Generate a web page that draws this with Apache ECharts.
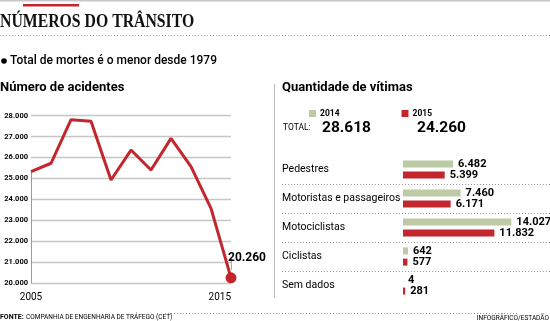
<!DOCTYPE html>
<html><head><meta charset="utf-8">
<script src="https://cdn.jsdelivr.net/npm/echarts@6/dist/echarts.min.js"></script>
<style>html,body{margin:0;padding:0;background:#fff}#c{width:550px;height:321px}</style>
</head><body><div id="c"></div>
<script>
// ---- data ----
const years = ['2005','2006','2007','2008','2009','2010','2011','2012','2013','2014','2015'];
const accidents = [25330, 25730, 27810, 27730, 24930, 26360, 25410, 26920, 25570, 23580, 20260];
const yTicks = [20000, 28000, 1000]; // min, max, interval
const categories = ['Pedestres', 'Motoristas e passageiros', 'Motociclistas', 'Ciclistas', 'Sem dados'];
const victims2014 = [6482, 7460, 14027, 642, 4];
const victims2015 = [5399, 6171, 11832, 577, 281];
const seriesNames = ['2014', '2015'];
const totals = ['28.618', '24.260'];

const RED = '#c1272d', GREEN = '#bccaa5';
const F = 'Roboto, "Noto Sans", sans-serif';
const fmt = v => v.toLocaleString('de-DE');

const chart = echarts.init(document.getElementById('c'), null, {renderer: 'canvas'});

const lastIdx = accidents.length - 1;
const lineData = accidents.map((v, i) => i === lastIdx ? {
  value: v, symbol: 'circle', symbolSize: 11,
  itemStyle: {color: RED},
  label: {show: true, position: 'top', offset: [16, -3], formatter: p => fmt(p.value),
    color: '#000', fontFamily: F, fontWeight: 'bold', fontSize: 12}
} : {value: v, symbol: 'none'});

const option = {
  animation: false,
  title: [
    {text: 'Número de acidentes', left: 0, top: 81, padding: 0,
     textStyle: {fontFamily: F, fontWeight: 'bold', fontSize: 13, color: '#000'}},
    {text: 'Quantidade de vítimas', left: 282, top: 81, padding: 0,
     textStyle: {fontFamily: F, fontWeight: 'bold', fontSize: 13, color: '#000'}}
  ],
  legend: {
    data: seriesNames, left: 309, top: 109, padding: 0,
    icon: 'rect', itemWidth: 7, itemHeight: 7, itemGap: 62,
    selectedMode: false,
    textStyle: {fontFamily: F, fontWeight: 'bold', fontSize: 8.5, color: '#000', padding: [0,0,0,-1]}
  },
  grid: [
    {left: 31, right: 319, top: 115.7, bottom: 37.7},
    {left: 403, right: 8, top: 155, bottom: 21}
  ],
  xAxis: [
    {gridIndex: 0, type: 'category', data: years, boundaryGap: false,
     axisLine: {show: false}, axisTick: {show: false}, splitLine: {show: false},
     axisLabel: {interval: (i) => i === 0 || i === years.length - 1, margin: 9,
       alignMaxLabel: 'right',
       fontFamily: F, fontSize: 10, color: '#000'}},
    {gridIndex: 1, type: 'value', min: 0, max: 18000, show: false}
  ],
  yAxis: [
    {gridIndex: 0, type: 'value', min: yTicks[0], max: yTicks[1], interval: yTicks[2],
     axisLine: {show: false}, axisTick: {show: false},
     splitLine: {lineStyle: {color: '#c6c6c6', width: 1.3}},
     axisLabel: {formatter: v => fmt(v), fontFamily: F, fontWeight: 'bold', fontSize: 7.5, color: '#000', margin: 3, align: 'right'}},
    {gridIndex: 1, type: 'category', data: categories, inverse: true,
     axisLine: {show: false}, axisTick: {show: false}, splitLine: {show: false},
     axisLabel: {align: 'left', margin: 121, fontFamily: F, fontSize: 10.5, color: '#000'}}
  ],
  series: [
    {type: 'line', xAxisIndex: 0, yAxisIndex: 0, data: lineData,
     lineStyle: {color: RED, width: 3}, itemStyle: {color: RED}, z: 5,
     markLine: {silent: true, symbol: 'none', label: {show: false},
       lineStyle: {color: '#9a9a9a', width: 1, type: 'solid'},
       data: [[{coord: [years[0], yTicks[0]]}, {coord: [years[0], accidents[0]]}]]}},
    {name: seriesNames[0], type: 'bar', xAxisIndex: 1, yAxisIndex: 1, data: victims2014,
     barWidth: 7, barGap: '60%', itemStyle: {color: GREEN},
     label: {show: true, position: 'right', distance: 5, formatter: p => fmt(p.value),
       fontFamily: F, fontWeight: 'bold', fontSize: 11, color: '#000'}},
    {name: seriesNames[1], type: 'bar', xAxisIndex: 1, yAxisIndex: 1, data: victims2015,
     barWidth: 7, barGap: '60%', itemStyle: {color: RED},
     label: {show: true, position: 'right', distance: 5, formatter: p => fmt(p.value),
       fontFamily: F, fontWeight: 'bold', fontSize: 11, color: '#000'}}
  ]
};
chart.setOption(option);

// ---- decorations computed from the axes ----
const dotted = {stroke: '#999', lineWidth: 1, lineDash: [1, 2]};
const g = [
  {id: 'topline', type: 'rect', left: 0, top: 0, shape: {width: 550, height: 1.5}, style: {fill: '#c8c8c8'}},
  {id: 'redbar', type: 'rect', left: 23, top: 4, shape: {width: 56, height: 2.5}, style: {fill: RED}, z: 10},
  {id: 'maintitle', type: 'text', left: 0, top: 13, scaleX: 0.83, originX: 0, style: {text: 'NÚMEROS DO TRÂNSITO', font: 'bold 19px "Liberation Serif", serif', fill: '#111'}},
  {id: 'dot1', type: 'line', shape: {x1: 0, y1: 35.5, x2: 550, y2: 35.5}, style: dotted},
  {id: 'bullet', type: 'circle', shape: {cx: 4, cy: 61, r: 2.8}, style: {fill: '#000'}},
  {id: 'sub', type: 'text', x: 10, y: 61, style: {text: 'Total de mortes é o menor desde 1979', font: '500 12px ' + F, fill: '#000', verticalAlign: 'middle'}},
  {id: 'vsep', type: 'line', shape: {x1: 274.5, y1: 84, x2: 274.5, y2: 298}, style: {stroke: '#bbb', lineWidth: 1}},
  {id: 'tot', type: 'text', x: 283, y: 128, style: {text: 'TOTAL:', font: '8.5px ' + F, fill: '#000', verticalAlign: 'middle'}},
  {id: 't0', type: 'text', x: 322, y: 128, style: {text: totals[0], font: 'bold 15.5px ' + F, fill: '#000', verticalAlign: 'middle'}},
  {id: 't1', type: 'text', x: 417, y: 128, style: {text: totals[1], font: 'bold 15.5px ' + F, fill: '#000', verticalAlign: 'middle'}},
  {id: 'dotb', type: 'line', shape: {x1: 165, y1: 313.5, x2: 518, y2: 313.5}, style: dotted},
  {id: 'fonte', type: 'text', x: 0, y: 317, style: {text: 'FONTE:', font: 'bold 7px ' + F, fill: '#000', verticalAlign: 'middle'}},
  {id: 'fonte2', type: 'text', x: 26, y: 317, style: {text: 'COMPANHIA DE ENGENHARIA DE TRÁFEGO (CET)', font: '6.5px ' + F, fill: '#000', verticalAlign: 'middle'}},
  {id: 'credit', type: 'text', x: 549, y: 318, style: {text: 'INFOGRÁFICO/ESTADÃO', font: '6.5px ' + F, fill: '#000', align: 'right', verticalAlign: 'middle'}}
];
// row separators between categories
for (let i = 0; i < categories.length - 1; i++) {
  const a = chart.convertToPixel({yAxisIndex: 1}, categories[i]);
  const b = chart.convertToPixel({yAxisIndex: 1}, categories[i + 1]);
  const y = Math.round((a + b) / 2) + 0.5;
  g.push({id: 'sep' + i, type: 'line', shape: {x1: 282, y1: y, x2: 550, y2: y}, style: dotted});
}
// leader line for the last point label
const lp = chart.convertToPixel({xAxisIndex: 0, yAxisIndex: 0}, [years[lastIdx], accidents[lastIdx]]);
g.push({id: 'leader', type: 'line', shape: {x1: lp[0] + 0.5, y1: lp[1] - 19, x2: lp[0] + 0.5, y2: lp[1] - 8}, style: {stroke: '#aaa', lineWidth: 1}});
chart.setOption({graphic: g});
</script></body></html>
